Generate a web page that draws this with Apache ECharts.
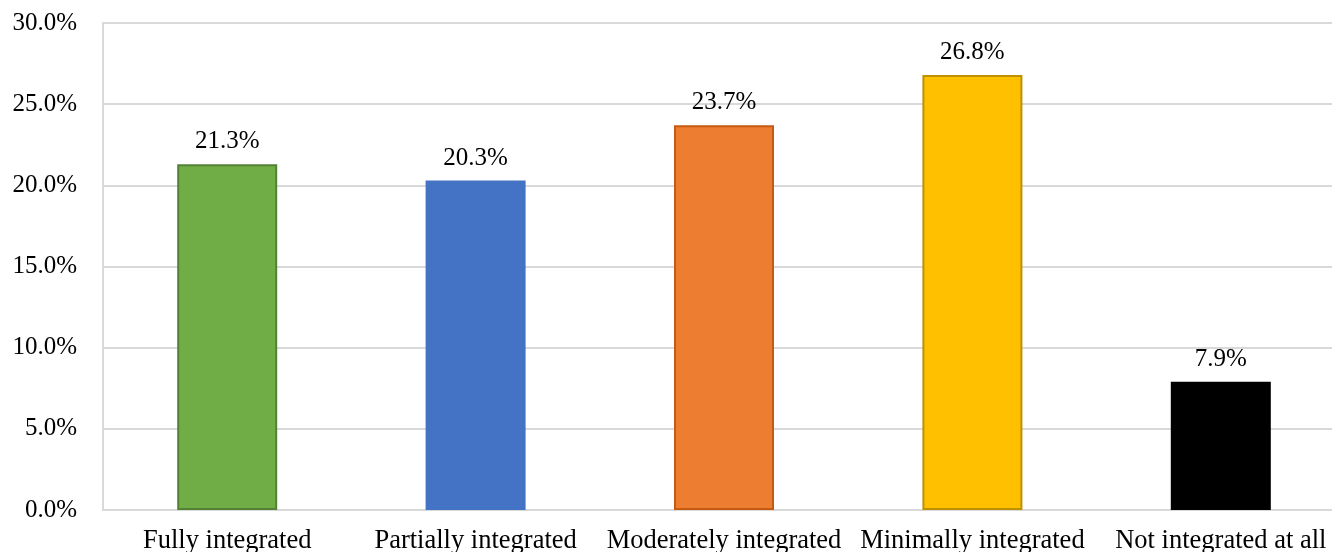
<!DOCTYPE html>
<html>
<head>
<meta charset="utf-8">
<title>Integration levels</title>
<script src="https://cdn.jsdelivr.net/npm/echarts@6/dist/echarts.min.js"></script>
<style>
  html, body { margin: 0; padding: 0; background: #fff; }
  #chart { width: 1332px; height: 552px; }
</style>
</head>
<body>
<div id="chart"></div>
<script>
// data
var categories = ["Fully integrated", "Partially integrated", "Moderately integrated", "Minimally integrated", "Not integrated at all"];
var shares = [21.3, 20.3, 23.7, 26.8, 7.9];
var fills = ["#70AD47", "#4472C4", "#ED7D31", "#FFC000", "#000000"];
var edges = ["#548235", "#4472C4", "#C55A11", "#BF9000", "#000000"];

var font = "'Liberation Serif', 'Times New Roman', serif";
var myChart = echarts.init(document.getElementById("chart"));

var option = {
  animation: false,
  // plot box runs past the right edge of the picture, as in the original crop
  grid: { left: 103, top: 23, width: 1242, height: 487, outerBoundsMode: "none", containLabel: false },
  xAxis: {
    type: "category",
    data: categories,
    axisLine: { lineStyle: { color: "#d9d9d9", width: 2 } },
    axisTick: { show: false },
    axisLabel: { color: "#000", fontFamily: font, fontSize: 26.5, margin: 18, interval: 0, hideOverlap: false }
  },
  yAxis: {
    type: "value",
    min: 0,
    max: 30,
    interval: 5,
    axisLine: { show: true, lineStyle: { color: "#d9d9d9", width: 2 } },
    axisTick: { show: false },
    splitLine: { lineStyle: { color: "#d9d9d9", width: 2 } },
    axisLabel: {
      color: "#000", fontFamily: font, fontSize: 25, margin: 26,
      formatter: function (v) { return v.toFixed(1) + "%"; }
    }
  },
  series: [{
    type: "bar",
    barWidth: 100,
    data: shares.map(function (v, i) {
      return { value: v, itemStyle: { color: fills[i], borderColor: edges[i], borderWidth: 2 } };
    }),
    label: {
      show: true,
      position: "top",
      distance: 10,
      color: "#000",
      fontFamily: font,
      fontSize: 25,
      formatter: function (p) { return p.value.toFixed(1) + "%"; }
    }
  }]
};

myChart.setOption(option);
</script>
</body>
</html>
